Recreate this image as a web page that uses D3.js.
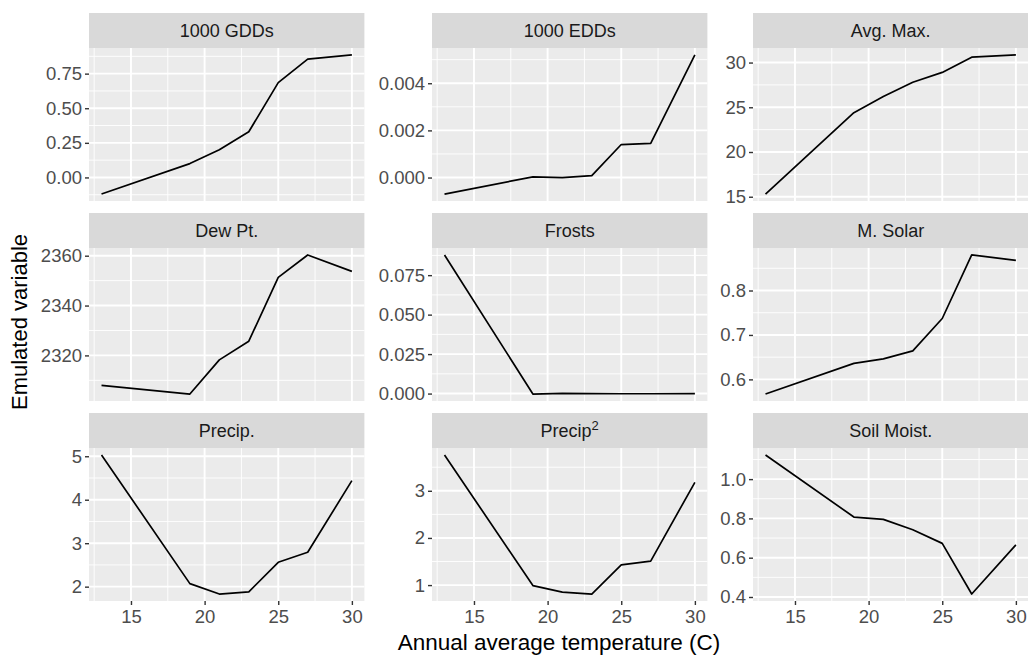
<!DOCTYPE html>
<html>
<head>
<meta charset="utf-8">
<title>Emulated variable</title>
<script src="https://cdn.jsdelivr.net/npm/d3@7"></script>
<style>
  body { margin:0; background:#fff; }
  text { font-family:"Liberation Sans", Arial, sans-serif; }
  .axis .domain { display:none; }
  .axis text { fill:#4d4d4d; font-size:18.5px; }
  .axis line { stroke:#333; }
</style>
</head>
<body>
<svg></svg>
<script>
// annual average temperature (x) shared by all panels
var temps = [13, 19, 21, 23, 25, 27, 30];
var xTicks = [15, 20, 25, 30];

var panelNames = ["1000 GDDs", "1000 EDDs", "Avg. Max.", "Dew Pt.", "Frosts", "M. Solar", "Precip.", "Precip2", "Soil Moist."];

var gdds   = [-0.12, 0.10, 0.20, 0.33, 0.685, 0.855, 0.885];
var edds   = [-0.0007, 0.00003, 0.0, 0.00008, 0.0014, 0.00145, 0.0052];
var avgMax = [15.3, 24.4, 26.2, 27.8, 28.9, 30.6, 30.85];
var dewPt  = [2308, 2304.5, 2318.2, 2325.7, 2351.3, 2360.3, 2353.7];
var frosts = [0.0878, -0.0003, 0.0001, 0.0, -0.0001, -0.0001, 0.0];
var mSolar = [0.567, 0.636, 0.646, 0.664, 0.737, 0.880, 0.868];
var precip = [5.03, 2.07, 1.83, 1.88, 2.56, 2.79, 4.44];
var precip2 = [3.76, 0.99, 0.85, 0.81, 1.43, 1.51, 3.18];
var soil   = [1.123, 0.807, 0.795, 0.742, 0.673, 0.415, 0.665];

var yTicks = [
  [0.00, 0.25, 0.50, 0.75],
  [0.000, 0.002, 0.004],
  [15, 20, 25, 30],
  [2320, 2340, 2360],
  [0.000, 0.025, 0.050, 0.075],
  [0.6, 0.7, 0.8],
  [2, 3, 4, 5],
  [1, 2, 3],
  [0.4, 0.6, 0.8, 1.0]
];
var yFormats = [".2f", ".3f", "d", "d", ".3f", ".1f", "d", "d", ".1f"];

var series = [gdds, edds, avgMax, dewPt, frosts, mSolar, precip, precip2, soil];

var width = 1028, height = 655;
var svg = d3.select("svg").attr("width", width).attr("height", height);

var colLeft = [89, 432, 753],
    rowTop = [13, 213, 413],
    panelW = 275.4, stripH = 35, panelH = 153;

function expand(ext) {
  var d = (ext[1] - ext[0]) * 0.05;
  return [ext[0] - d, ext[1] + d];
}

var x = d3.scaleLinear().domain(expand(d3.extent(temps))).range([0, panelW]);
var xMinor = [12.5, 17.5, 22.5, 27.5];

series.forEach(function(vals, i) {
  var col = i % 3, row = Math.floor(i / 3);
  var g = svg.append("g").attr("transform", "translate(" + colLeft[col] + "," + (rowTop[row] + stripH) + ")");
  var y = d3.scaleLinear().domain(expand(d3.extent(vals))).range([panelH, 0]);

  g.append("rect").attr("width", panelW).attr("height", panelH).attr("fill", "#ebebeb");

  // minor grid
  var yt = yTicks[i], step = yt[1] - yt[0];
  var yMinor = [];
  for (var v = yt[0] - step / 2; v <= y.domain()[1]; v += step) {
    if (v >= y.domain()[0]) yMinor.push(v);
  }
  g.selectAll(".ymin").data(yMinor).enter().append("line")
    .attr("x1", 0).attr("x2", panelW)
    .attr("y1", d => y(d)).attr("y2", d => y(d))
    .attr("stroke", "#fff").attr("stroke-width", 0.9);
  g.selectAll(".xmin").data(xMinor).enter().append("line")
    .attr("y1", 0).attr("y2", panelH)
    .attr("x1", d => x(d)).attr("x2", d => x(d))
    .attr("stroke", "#fff").attr("stroke-width", 0.9);
  // major grid
  g.selectAll(".ymaj").data(yt).enter().append("line")
    .attr("x1", 0).attr("x2", panelW)
    .attr("y1", d => y(d)).attr("y2", d => y(d))
    .attr("stroke", "#fff").attr("stroke-width", 1.9);
  g.selectAll(".xmaj").data(xTicks).enter().append("line")
    .attr("y1", 0).attr("y2", panelH)
    .attr("x1", d => x(d)).attr("x2", d => x(d))
    .attr("stroke", "#fff").attr("stroke-width", 1.9);

  // line
  g.append("path")
    .datum(temps.map((t, k) => [t, vals[k]]))
    .attr("fill", "none").attr("stroke", "#000").attr("stroke-width", 1.7)
    .attr("stroke-linejoin", "round")
    .attr("d", d3.line().x(d => x(d[0])).y(d => y(d[1])));

  // y axis
  g.append("g").attr("class", "axis")
    .call(d3.axisLeft(y).tickValues(yt).tickSize(4).tickPadding(3).tickFormat(d3.format(yFormats[i])))
    .selectAll("line").attr("stroke-width", 1.4);

  // x axis on bottom row only
  if (row === 2) {
    g.append("g").attr("class", "axis").attr("transform", "translate(0," + panelH + ")")
      .call(d3.axisBottom(x).tickValues(xTicks).tickSize(4).tickPadding(5))
      .selectAll("line").attr("stroke-width", 1.4);
  }

  // strip
  var s = svg.append("g").attr("transform", "translate(" + colLeft[col] + "," + rowTop[row] + ")");
  s.append("rect").attr("width", panelW).attr("height", stripH).attr("fill", "#d9d9d9");
  var st = s.append("text").attr("x", panelW / 2).attr("y", stripH / 2 + 6.5)
    .attr("text-anchor", "middle").attr("font-size", 18).attr("fill", "#1a1a1a");
  if (panelNames[i] === "Precip2") {
    st.append("tspan").text("Precip");
    st.append("tspan").attr("dy", -7).attr("font-size", 13).text("2");
  } else {
    st.text(panelNames[i]);
  }
});

svg.append("text").attr("x", 559).attr("y", 650).attr("text-anchor", "middle")
  .attr("font-size", 22.5).attr("fill", "#000").text("Annual average temperature (C)");
svg.append("text").attr("transform", "translate(27,322) rotate(-90)").attr("text-anchor", "middle")
  .attr("font-size", 22).attr("fill", "#000").text("Emulated variable");
</script>
</body>
</html>
